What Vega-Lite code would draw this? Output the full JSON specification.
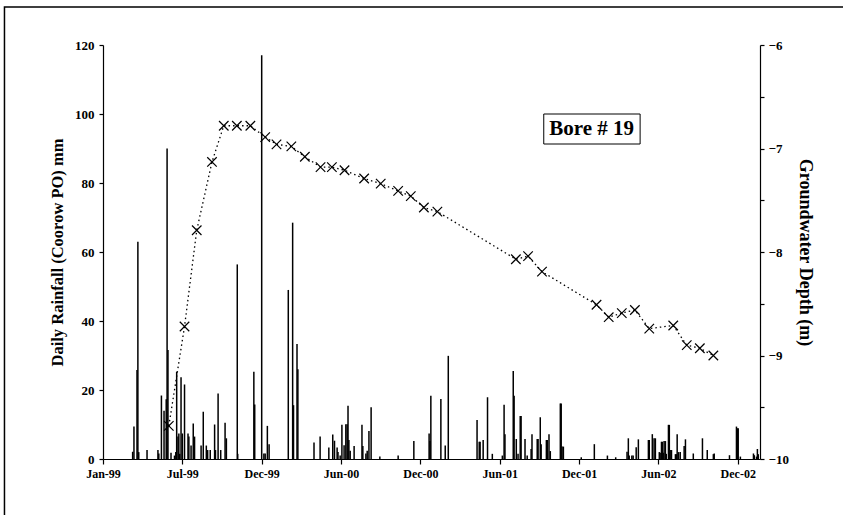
{
  "$schema": "https://vega.github.io/schema/vega-lite/v6.json",
  "width": 657,
  "height": 414,
  "autosize": "none",
  "padding": {"left": 103, "top": 45, "right": 83, "bottom": 56},
  "background": "white",
  "config": {
    "view": {"stroke": null},
    "font": "Liberation Serif",
    "axis": {
      "labelFont": "Liberation Serif",
      "labelFontWeight": "bold",
      "labelFontSize": 12,
      "labelColor": "black",
      "titleFont": "Liberation Serif",
      "titleFontWeight": "bold",
      "titleFontSize": 16.5,
      "titleColor": "black",
      "domainColor": "black",
      "domainWidth": 1.2,
      "tickColor": "black",
      "tickWidth": 1.2,
      "tickSize": 4,
      "grid": false
    }
  },
  "datasets": {
    "rain": [
      {"date": "1999/03/10", "rain": 2.1},
      {"date": "1999/03/13", "rain": 9.4},
      {"date": "1999/03/20", "rain": 25.8},
      {"date": "1999/03/22", "rain": 63},
      {"date": "1999/03/24", "rain": 2},
      {"date": "1999/04/12", "rain": 2.6},
      {"date": "1999/05/07", "rain": 2.6},
      {"date": "1999/05/09", "rain": 1.6},
      {"date": "1999/05/15", "rain": 18.4},
      {"date": "1999/05/21", "rain": 14},
      {"date": "1999/05/26", "rain": 17.3},
      {"date": "1999/05/28", "rain": 90},
      {"date": "1999/05/30", "rain": 31.6},
      {"date": "1999/06/06", "rain": 1.8},
      {"date": "1999/06/14", "rain": 1},
      {"date": "1999/06/17", "rain": 2},
      {"date": "1999/06/19", "rain": 25.3},
      {"date": "1999/06/22", "rain": 6.5},
      {"date": "1999/06/24", "rain": 7.4},
      {"date": "1999/06/26", "rain": 1.5},
      {"date": "1999/06/29", "rain": 23.7},
      {"date": "1999/07/02", "rain": 7.4},
      {"date": "1999/07/07", "rain": 21.6},
      {"date": "1999/07/15", "rain": 7.4},
      {"date": "1999/07/17", "rain": 6.5},
      {"date": "1999/07/22", "rain": 3.9},
      {"date": "1999/07/27", "rain": 10.3},
      {"date": "1999/07/30", "rain": 6.5},
      {"date": "1999/08/14", "rain": 3.9},
      {"date": "1999/08/19", "rain": 13.7},
      {"date": "1999/08/26", "rain": 3.9},
      {"date": "1999/08/29", "rain": 2.6},
      {"date": "1999/09/04", "rain": 2.6},
      {"date": "1999/09/14", "rain": 10},
      {"date": "1999/09/16", "rain": 2.6},
      {"date": "1999/09/22", "rain": 19},
      {"date": "1999/09/28", "rain": 2.6},
      {"date": "1999/10/08", "rain": 10.5},
      {"date": "1999/10/11", "rain": 6},
      {"date": "1999/11/05", "rain": 56.4},
      {"date": "1999/11/06", "rain": 1.5},
      {"date": "1999/12/13", "rain": 25.3},
      {"date": "1999/12/15", "rain": 15.8},
      {"date": "1999/12/31", "rain": 117},
      {"date": "2000/01/05", "rain": 1.6},
      {"date": "2000/01/08", "rain": 1.6},
      {"date": "2000/01/13", "rain": 9.6},
      {"date": "2000/01/17", "rain": 4.3},
      {"date": "2000/03/01", "rain": 49},
      {"date": "2000/03/11", "rain": 68.5},
      {"date": "2000/03/13", "rain": 15.6},
      {"date": "2000/03/21", "rain": 33.3},
      {"date": "2000/03/23", "rain": 26},
      {"date": "2000/04/29", "rain": 4.8},
      {"date": "2000/05/13", "rain": 6.5},
      {"date": "2000/06/02", "rain": 3.3},
      {"date": "2000/06/11", "rain": 7.1},
      {"date": "2000/06/15", "rain": 5.3},
      {"date": "2000/06/21", "rain": 3.3},
      {"date": "2000/06/23", "rain": 2},
      {"date": "2000/06/28", "rain": 1},
      {"date": "2000/07/02", "rain": 9.9},
      {"date": "2000/07/07", "rain": 4},
      {"date": "2000/07/11", "rain": 10.1},
      {"date": "2000/07/14", "rain": 10.1},
      {"date": "2000/07/16", "rain": 15.4},
      {"date": "2000/07/18", "rain": 5.5},
      {"date": "2000/07/21", "rain": 2.4},
      {"date": "2000/07/30", "rain": 3.8},
      {"date": "2000/08/17", "rain": 9.9},
      {"date": "2000/08/19", "rain": 3.8},
      {"date": "2000/08/26", "rain": 1.6},
      {"date": "2000/08/29", "rain": 2.4},
      {"date": "2000/09/02", "rain": 8.1},
      {"date": "2000/09/07", "rain": 15},
      {"date": "2000/09/27", "rain": 0.7},
      {"date": "2000/11/08", "rain": 1},
      {"date": "2000/12/14", "rain": 5.2},
      {"date": "2001/01/18", "rain": 7.4},
      {"date": "2001/01/20", "rain": 5.2},
      {"date": "2001/01/22", "rain": 18.3},
      {"date": "2001/02/14", "rain": 17.4},
      {"date": "2001/02/24", "rain": 3.9},
      {"date": "2001/03/03", "rain": 29.9},
      {"date": "2001/05/08", "rain": 11.3},
      {"date": "2001/05/13", "rain": 5},
      {"date": "2001/05/15", "rain": 5},
      {"date": "2001/05/22", "rain": 5.5},
      {"date": "2001/06/01", "rain": 17.9},
      {"date": "2001/06/12", "rain": 1.5},
      {"date": "2001/07/05", "rain": 1},
      {"date": "2001/07/09", "rain": 15.7},
      {"date": "2001/07/11", "rain": 7.2},
      {"date": "2001/07/30", "rain": 25.5},
      {"date": "2001/08/01", "rain": 18.3},
      {"date": "2001/08/06", "rain": 5.8},
      {"date": "2001/08/10", "rain": 1.5},
      {"date": "2001/08/15", "rain": 12.5},
      {"date": "2001/08/17", "rain": 12.5},
      {"date": "2001/08/26", "rain": 5.8},
      {"date": "2001/08/31", "rain": 1},
      {"date": "2001/09/09", "rain": 2.9},
      {"date": "2001/09/11", "rain": 7.2},
      {"date": "2001/09/23", "rain": 5.8},
      {"date": "2001/09/25", "rain": 5.8},
      {"date": "2001/09/30", "rain": 12.1},
      {"date": "2001/10/02", "rain": 4.3},
      {"date": "2001/10/14", "rain": 5.5},
      {"date": "2001/10/16", "rain": 5.5},
      {"date": "2001/10/20", "rain": 7.2},
      {"date": "2001/10/23", "rain": 2.3},
      {"date": "2001/11/15", "rain": 16.1},
      {"date": "2001/11/17", "rain": 16.1},
      {"date": "2001/11/19", "rain": 3.6},
      {"date": "2001/11/22", "rain": 3.6},
      {"date": "2002/01/02", "rain": 0.5},
      {"date": "2002/02/01", "rain": 4.3},
      {"date": "2002/03/03", "rain": 1},
      {"date": "2002/03/22", "rain": 0.5},
      {"date": "2002/04/17", "rain": 2.1},
      {"date": "2002/04/20", "rain": 6},
      {"date": "2002/04/22", "rain": 1},
      {"date": "2002/04/28", "rain": 1},
      {"date": "2002/05/01", "rain": 1},
      {"date": "2002/05/08", "rain": 3.4},
      {"date": "2002/05/13", "rain": 5.7},
      {"date": "2002/06/05", "rain": 5.5},
      {"date": "2002/06/07", "rain": 5.5},
      {"date": "2002/06/14", "rain": 7.2},
      {"date": "2002/06/18", "rain": 6},
      {"date": "2002/06/21", "rain": 6},
      {"date": "2002/06/30", "rain": 2},
      {"date": "2002/07/02", "rain": 1.8},
      {"date": "2002/07/05", "rain": 5},
      {"date": "2002/07/07", "rain": 5},
      {"date": "2002/07/09", "rain": 1.8},
      {"date": "2002/07/11", "rain": 5.2},
      {"date": "2002/07/14", "rain": 5.2},
      {"date": "2002/07/16", "rain": 1.5},
      {"date": "2002/07/21", "rain": 9.9},
      {"date": "2002/07/23", "rain": 9.9},
      {"date": "2002/07/25", "rain": 2.6},
      {"date": "2002/07/28", "rain": 2.6},
      {"date": "2002/08/06", "rain": 1.4},
      {"date": "2002/08/08", "rain": 1.4},
      {"date": "2002/08/10", "rain": 7.2},
      {"date": "2002/08/13", "rain": 2},
      {"date": "2002/08/17", "rain": 2},
      {"date": "2002/08/26", "rain": 3.8},
      {"date": "2002/08/29", "rain": 5.7},
      {"date": "2002/09/16", "rain": 1.6},
      {"date": "2002/10/07", "rain": 6},
      {"date": "2002/10/18", "rain": 2.6},
      {"date": "2002/11/01", "rain": 1.4},
      {"date": "2002/11/03", "rain": 1.6},
      {"date": "2002/12/08", "rain": 1.1},
      {"date": "2002/12/24", "rain": 9.4},
      {"date": "2002/12/26", "rain": 8.9},
      {"date": "2002/12/28", "rain": 8.9},
      {"date": "2003/01/02", "rain": 0.7},
      {"date": "2003/02/01", "rain": 1.6},
      {"date": "2003/02/03", "rain": 1.1},
      {"date": "2003/02/08", "rain": 0.7},
      {"date": "2003/02/10", "rain": 2.9},
      {"date": "2003/02/12", "rain": 1.4}
    ],
    "gw": [
      {"date": "1999/06/01", "depth": -9.68},
      {"date": "1999/07/07", "depth": -8.72},
      {"date": "1999/08/04", "depth": -7.79},
      {"date": "1999/09/08", "depth": -7.13},
      {"date": "1999/10/05", "depth": -6.78},
      {"date": "1999/11/04", "depth": -6.78},
      {"date": "1999/12/05", "depth": -6.78},
      {"date": "2000/01/08", "depth": -6.89},
      {"date": "2000/02/03", "depth": -6.96},
      {"date": "2000/03/08", "depth": -6.98},
      {"date": "2000/04/08", "depth": -7.08},
      {"date": "2000/05/14", "depth": -7.18},
      {"date": "2000/06/09", "depth": -7.18},
      {"date": "2000/07/08", "depth": -7.21},
      {"date": "2000/08/22", "depth": -7.29},
      {"date": "2000/09/29", "depth": -7.34},
      {"date": "2000/11/08", "depth": -7.41},
      {"date": "2000/12/07", "depth": -7.46},
      {"date": "2001/01/06", "depth": -7.57},
      {"date": "2001/02/06", "depth": -7.61},
      {"date": "2001/08/05", "depth": -8.07},
      {"date": "2001/09/02", "depth": -8.04},
      {"date": "2001/10/04", "depth": -8.19},
      {"date": "2002/02/06", "depth": -8.51},
      {"date": "2002/03/06", "depth": -8.63},
      {"date": "2002/04/05", "depth": -8.59},
      {"date": "2002/05/05", "depth": -8.56},
      {"date": "2002/06/07", "depth": -8.74},
      {"date": "2002/08/01", "depth": -8.71},
      {"date": "2002/09/01", "depth": -8.9},
      {"date": "2002/10/01", "depth": -8.93},
      {"date": "2002/11/01", "depth": -9.0}
    ]
  },
  "layer": [
    {
      "layer": [
        {
          "data": {"values": [{}]},
          "mark": {"type": "rect", "fill": null, "stroke": "black", "strokeWidth": 1.5, "clip": false},
          "encoding": {
            "x": {"datum": {"year": 1998, "month": 5, "date": 20}, "type": "temporal"},
            "x2": {"datum": {"year": 2003, "month": 9, "date": 11}},
            "y": {"datum": 131, "type": "quantitative"},
            "y2": {"datum": -25}
          }
        },
        {
          "data": {"name": "rain"},
          "mark": {"type": "rule", "color": "black", "strokeWidth": 1.5},
          "encoding": {
            "x": {
              "field": "date",
              "type": "temporal",
              "scale": {"domain": [{"year": 1999, "month": 1, "date": 1}, {"year": 2003, "month": 2, "date": 16}], "nice": false},
              "axis": {
                "title": null,
                "format": "%b-%y",
                "values": [
                  {"year": 1999, "month": 1, "date": 1},
                  {"year": 1999, "month": 7, "date": 2},
                  {"year": 1999, "month": 12, "date": 31},
                  {"year": 2000, "month": 6, "date": 30},
                  {"year": 2000, "month": 12, "date": 29},
                  {"year": 2001, "month": 6, "date": 29},
                  {"year": 2001, "month": 12, "date": 28},
                  {"year": 2002, "month": 6, "date": 28},
                  {"year": 2002, "month": 12, "date": 27}
                ],
                "labelPadding": 4,
                "tickSize": 5,
                "labelFlush": false,
                "labelOverlap": false
              }
            },
            "y": {
              "field": "rain",
              "type": "quantitative",
              "scale": {"domain": [0, 120], "nice": false},
              "axis": {
                "orient": "left",
                "title": "Daily Rainfall (Coorow PO) mm",
                "values": [0, 5, 10, 15, 20, 25, 30, 35, 40, 45, 50, 55, 60, 65, 70, 75, 80, 85, 90, 95, 100, 105, 110, 115, 120],
                "labelExpr": "datum.value % 20 == 0 ? datum.label : ''",
                "labelFontSize": 13,
                "labelPadding": 5,
                "titlePadding": 9
              }
            },
            "y2": {"datum": 0}
          }
        },
        {
          "data": {"values": [{}]},
          "mark": {"type": "rect", "fill": "white", "stroke": "black", "strokeWidth": 1},
          "encoding": {
            "x": {"datum": {"year": 2001, "month": 10, "date": 8}, "type": "temporal"},
            "x2": {"datum": {"year": 2002, "month": 5, "date": 17}},
            "y": {"datum": 100, "type": "quantitative"},
            "y2": {"datum": 91.3}
          }
        },
        {
          "data": {"values": [{"label": "Bore # 19"}]},
          "mark": {"type": "text", "font": "Liberation Serif", "fontWeight": "bold", "fontSize": 21, "baseline": "middle", "align": "center", "color": "black"},
          "encoding": {
            "x": {"datum": {"year": 2002, "month": 1, "date": 26}, "type": "temporal"},
            "y": {"datum": 95.6, "type": "quantitative"},
            "text": {"field": "label"}
          }
        }
      ]
    },
    {
      "data": {"name": "gw"},
      "encoding": {
        "x": {"field": "date", "type": "temporal"},
        "y": {
          "field": "depth",
          "type": "quantitative",
          "scale": {"domain": [-10, -6], "nice": false, "zero": false},
          "axis": {
            "orient": "right",
            "title": "Groundwater Depth (m)",
            "titleFontSize": 18,
            "values": [-10, -9.5, -9, -8.5, -8, -7.5, -7, -6.5, -6],
            "format": ".0f",
            "labelExpr": "datum.value % 1 == 0 ? datum.label : ''",
            "labelFontSize": 13,
            "labelPadding": 4,
            "titlePadding": 7
          }
        }
      },
      "layer": [
        {"mark": {"type": "line", "color": "black", "strokeWidth": 1.3, "strokeDash": [1.5, 3]}},
        {"mark": {"type": "point", "shape": "M-1,-1L1,1M1,-1L-1,1", "size": 90, "filled": false, "stroke": "black", "strokeWidth": 1.2, "opacity": 1}}
      ]
    }
  ],
  "resolve": {"scale": {"y": "independent"}, "axis": {"y": "independent"}}
}
